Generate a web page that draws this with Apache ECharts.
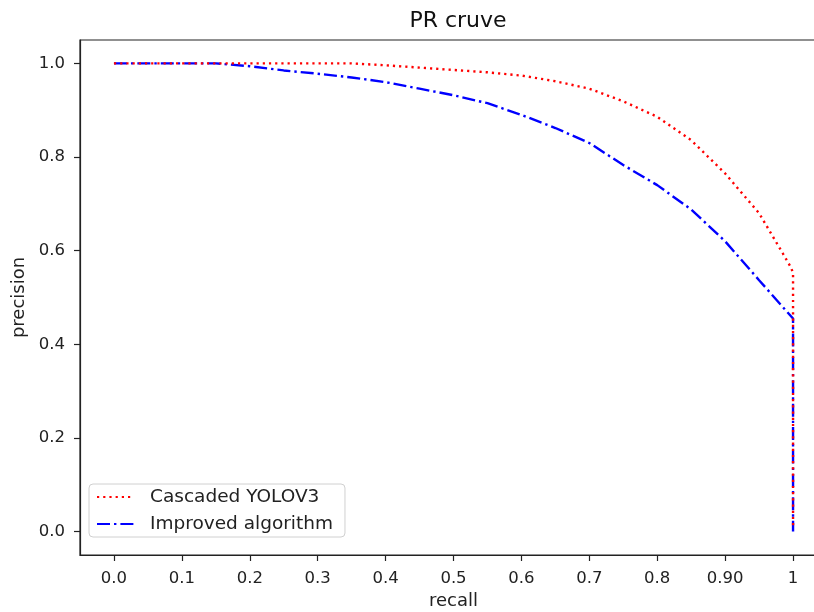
<!DOCTYPE html>
<html>
<head>
<meta charset="utf-8">
<script src="https://cdn.jsdelivr.net/npm/echarts@6/dist/echarts.min.js"></script>
<style>html,body{margin:0;padding:0;background:#fff;}#chart{width:814px;height:612px;}</style>
</head>
<body>
<div id="chart"></div>
<script>
// ---- data ----
const titleText = 'PR cruve';
const xName = 'recall';
const yName = 'precision';
const seriesNames = ['Cascaded YOLOV3', 'Improved algorithm'];

const xTickValues = [0, 0.1, 0.2, 0.3, 0.4, 0.5, 0.6, 0.7, 0.8, 0.9, 1.0];
const xTickLabels = ['0.0', '0.1', '0.2', '0.3', '0.4', '0.5', '0.6', '0.7', '0.8', '0.90', '1'];
const yTickValues = [0, 0.2, 0.4, 0.6, 0.8, 1.0];
const yTickLabels = ['0.0', '0.2', '0.4', '0.6', '0.8', '1.0'];

const cascadedRecall    = [0, 0.05, 0.1, 0.15, 0.2, 0.25, 0.3, 0.35, 0.4, 0.45, 0.5, 0.55, 0.6, 0.65, 0.7, 0.75, 0.8, 0.85, 0.9, 0.95, 0.985, 0.997, 1.0, 1.0];
const cascadedPrecision = [1, 1, 1, 1, 1, 1, 1, 1, 0.996, 0.991, 0.986, 0.981, 0.974, 0.962, 0.946, 0.919, 0.886, 0.836, 0.765, 0.68, 0.594, 0.564, 0.552, 0.005];

const improvedRecall    = [0, 0.05, 0.1, 0.15, 0.2, 0.25, 0.3, 0.35, 0.4, 0.45, 0.5, 0.55, 0.6, 0.65, 0.7, 0.75, 0.8, 0.85, 0.9, 0.95, 1.0, 1.0];
const improvedPrecision = [1, 1, 1, 1, 0.994, 0.985, 0.978, 0.97, 0.96, 0.946, 0.932, 0.915, 0.89, 0.862, 0.83, 0.783, 0.74, 0.688, 0.62, 0.537, 0.455, 0.0];

// ---- chart ----
const pairs = (xs, ys) => xs.map((x, i) => [x, ys[i]]);
const font = 'DejaVu Sans';
const chart = echarts.init(document.getElementById('chart'), null, {renderer: 'canvas'});
chart.setOption({
  backgroundColor: '#fff',
  animation: false,
  title: {
    text: titleText, left: 453, top: 5, textAlign: 'center',
    textStyle: {fontFamily: font, fontSize: 22, fontWeight: 'normal', color: '#111'}
  },
  grid: {
    left: 80, top: 40, width: 747, height: 515,
    outerBoundsMode: 'none', containLabel: false,
    show: true, borderColor: '#222', borderWidth: 1.2, backgroundColor: 'transparent'
  },
  legend: {
    orient: 'vertical', left: 89, top: 484,
    backgroundColor: 'rgba(255,255,255,0.8)',
    borderColor: '#d0d0d0', borderWidth: 1, borderRadius: 4,
    padding: [2, 12, 2, 7], itemGap: 5, itemWidth: 37, itemHeight: 14,
    itemStyle: {opacity: 0},
    textStyle: {fontFamily: font, fontSize: 18.5, lineHeight: 22, color: '#222', padding: [0, 0, 0, 11]},
    data: seriesNames
  },
  xAxis: {
    type: 'value', min: -0.05, max: 1.05,
    name: xName, nameLocation: 'middle', nameGap: 37,
    nameTextStyle: {fontFamily: font, fontSize: 18, color: '#222'},
    axisLine: {show: true, onZero: false, lineStyle: {color: '#222', width: 1.2}},
    axisTick: {show: true, length: 6, customValues: xTickValues, lineStyle: {color: '#222', width: 1.2}},
    axisLabel: {
      customValues: xTickValues, margin: 15,
      fontFamily: font, fontSize: 16.5, color: '#222',
      formatter: v => { const i = xTickValues.findIndex(t => Math.abs(t - v) < 1e-6); return i >= 0 ? xTickLabels[i] : ''; }
    },
    splitLine: {show: false}
  },
  yAxis: {
    type: 'value', min: -0.05, max: 1.05,
    name: yName, nameLocation: 'middle', nameGap: 49, nameRotate: 90,
    nameTextStyle: {fontFamily: font, fontSize: 18, color: '#222'},
    axisLine: {show: true, onZero: false, lineStyle: {color: '#222', width: 1.2}},
    axisTick: {show: true, length: 6, customValues: yTickValues, lineStyle: {color: '#222', width: 1.2}},
    axisLabel: {
      customValues: yTickValues, margin: 15,
      fontFamily: font, fontSize: 16.5, color: '#222',
      formatter: v => { const i = yTickValues.findIndex(t => Math.abs(t - v) < 1e-6); return i >= 0 ? yTickLabels[i] : ''; }
    },
    splitLine: {show: false}
  },
  series: [
    {
      name: seriesNames[0], type: 'line', showSymbol: false, symbol: 'none',
      data: pairs(cascadedRecall, cascadedPrecision),
      itemStyle: {color: '#ff0000'},
      lineStyle: {color: '#ff0000', width: 2.4, type: [2.2, 4.0], cap: 'butt'},
      z: 3
    },
    {
      name: seriesNames[1], type: 'line', showSymbol: false, symbol: 'none',
      data: pairs(improvedRecall, improvedPrecision),
      itemStyle: {color: '#0000ff'},
      lineStyle: {color: '#0000ff', width: 2.4, type: [13, 4, 2.4, 4], cap: 'butt'},
      z: 2
    }
  ]
});
</script>
</body>
</html>
